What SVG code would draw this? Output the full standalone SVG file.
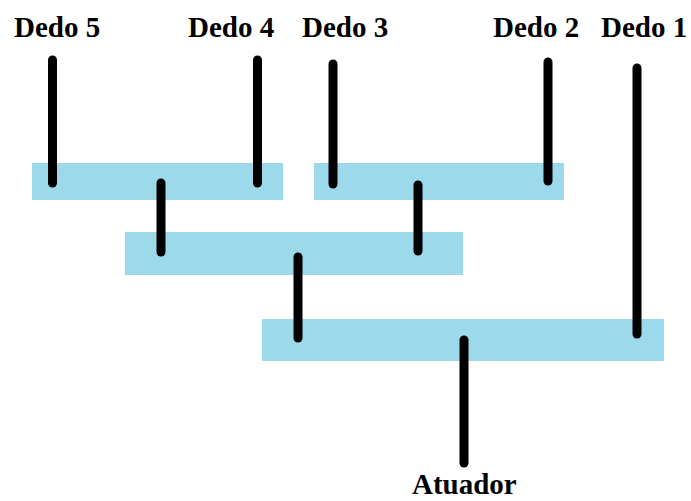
<svg xmlns="http://www.w3.org/2000/svg" width="691" height="501" viewBox="0 0 691 501">
<style>
.bar{fill:#9cd9ea}
.ln{stroke:#000;stroke-width:9;stroke-linecap:round;fill:none}
.t{font-family:"Liberation Serif","Times New Roman",serif;font-weight:bold;font-size:29px;fill:#000}
</style>
<rect width="691" height="501" fill="#fff"/>
<g id="bar-top-left"><rect class="bar" x="32" y="163" width="251" height="37"/></g>
<g id="bar-top-right"><rect class="bar" x="314" y="163" width="250" height="37"/></g>
<g id="bar-middle"><rect class="bar" x="125" y="232" width="338" height="43"/></g>
<g id="bar-bottom"><rect class="bar" x="262" y="319" width="402" height="42"/></g>
<g id="labels">
<text class="t" x="14" y="37">Dedo 5</text>
<text class="t" x="188" y="37">Dedo 4</text>
<text class="t" x="302" y="37">Dedo 3</text>
<text class="t" x="493" y="37">Dedo 2</text>
<text class="t" x="601" y="37">Dedo 1</text>
<text class="t" x="412" y="494">Atuador</text>
</g>
<g id="connectors">
<line class="ln" x1="52.5" y1="60" x2="52.5" y2="183"/>
<line class="ln" x1="257.5" y1="60" x2="257.5" y2="183"/>
<line class="ln" x1="333" y1="64" x2="333" y2="184"/>
<line class="ln" x1="548" y1="62" x2="548" y2="181"/>
<line class="ln" x1="637" y1="68" x2="637" y2="334"/>
<line class="ln" x1="161" y1="183" x2="161" y2="252"/>
<line class="ln" x1="418" y1="185" x2="418" y2="251"/>
<line class="ln" x1="298" y1="257" x2="298" y2="338"/>
<line class="ln" x1="464" y1="340" x2="464" y2="463"/>
</g>
</svg>
